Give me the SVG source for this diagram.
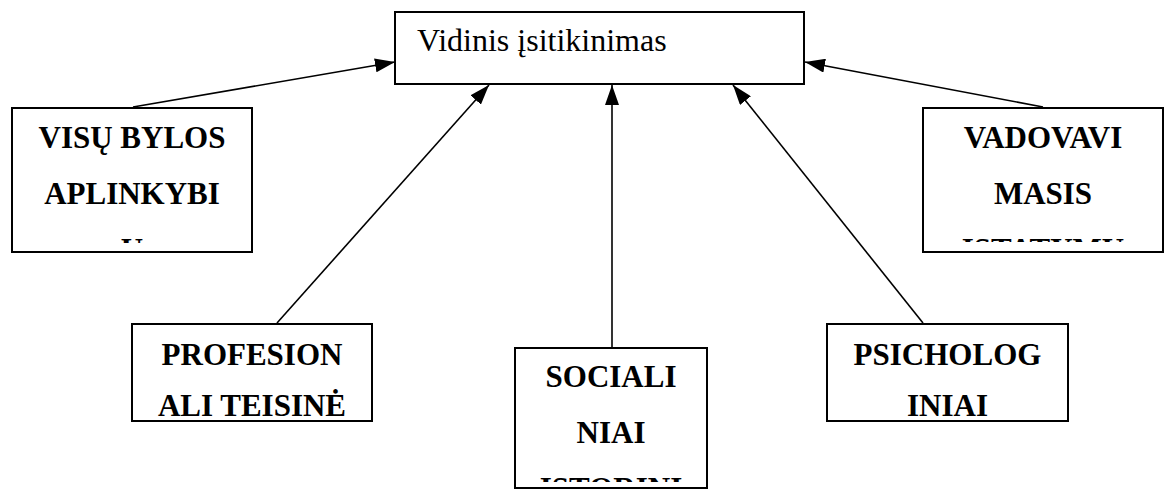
<svg xmlns="http://www.w3.org/2000/svg" width="1165" height="492" viewBox="0 0 1165 492">
<style>
.box{fill:#fff;stroke:#000;stroke-width:2}
.lbl{font-family:"Liberation Serif","Times New Roman",serif;font-weight:bold;font-size:31px;text-anchor:middle;fill:#000}
.title{font-family:"Liberation Serif","Times New Roman",serif;font-size:32px;fill:#000}
.edge{stroke:#000;stroke-width:1.6;fill:none;marker-end:url(#ah)}
</style>
<defs>
<marker id="ah" markerUnits="userSpaceOnUse" markerWidth="20" markerHeight="14" refX="20" refY="7" orient="auto">
<path d="M0,0 L20,7 L0,14 z" fill="#000"/>
</marker>
<clipPath id="c1"><rect x="13" y="109" width="238" height="134"/></clipPath>
<clipPath id="c2"><rect x="924" y="109" width="238" height="133"/></clipPath>
<clipPath id="c3"><rect x="516" y="349" width="190" height="133"/></clipPath>
</defs>
<rect width="1165" height="492" fill="#fff"/>
<g id="connectors">
<line class="edge" x1="133" y1="107" x2="395" y2="62"/>
<line class="edge" x1="1043" y1="107" x2="805" y2="62"/>
<line class="edge" x1="277" y1="323" x2="489" y2="85"/>
<line class="edge" x1="612" y1="347" x2="612" y2="85"/>
<line class="edge" x1="923" y1="323" x2="733" y2="85"/>
</g>
<g id="n-vidinis">
<rect class="box" x="395" y="12" width="409" height="72"/>
<text class="title" x="417" y="51">Vidinis įsitikinimas</text>
</g>
<g id="n-visu">
<rect class="box" x="12" y="108" width="240" height="144"/>
<g clip-path="url(#c1)">
<text class="lbl" x="132" y="148">VISŲ BYLOS</text>
<text class="lbl" x="132" y="204">APLINKYBI</text>
<text class="lbl" x="132" y="260">Ų</text>
</g>
</g>
<g id="n-vadovavimasis">
<rect class="box" x="923" y="108" width="240" height="144"/>
<g clip-path="url(#c2)">
<text class="lbl" x="1043" y="148">VADOVAVI</text>
<text class="lbl" x="1043" y="204">MASIS</text>
<text class="lbl" x="1043" y="260">ĮSTATYMU</text>
</g>
</g>
<g id="n-profesion">
<rect class="box" x="132" y="324" width="240" height="97"/>
<text class="lbl" x="252" y="365">PROFESION</text>
<text class="lbl" x="252" y="416">ALI TEISINĖ</text>
</g>
<g id="n-sociali">
<rect class="box" x="515" y="348" width="192" height="140"/>
<g clip-path="url(#c3)">
<text class="lbl" x="611" y="387">SOCIALI</text>
<text class="lbl" x="611" y="443">NIAI</text>
<text class="lbl" x="611" y="499">ISTORINI</text>
</g>
</g>
<g id="n-psicholog">
<rect class="box" x="827" y="324" width="241" height="97"/>
<text class="lbl" x="947.5" y="365">PSICHOLOG</text>
<text class="lbl" x="947.5" y="416">INIAI</text>
</g>
</svg>
